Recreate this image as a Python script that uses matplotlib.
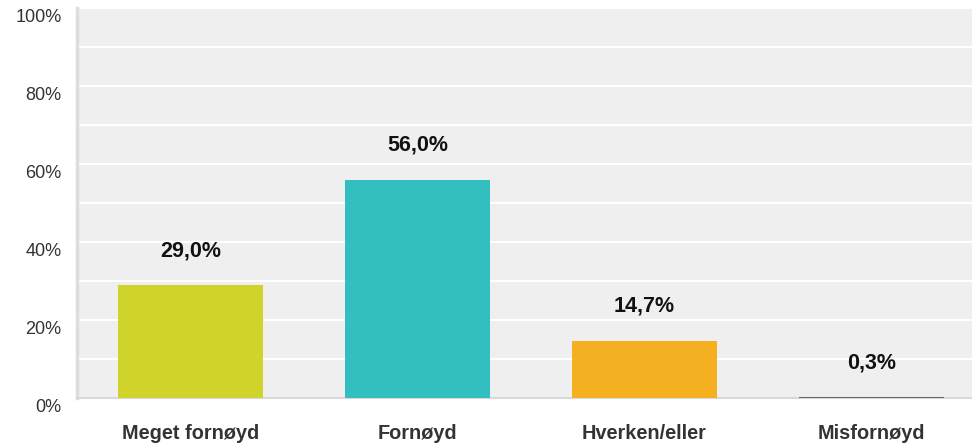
import matplotlib.pyplot as plt
import matplotlib.transforms as mtransforms
import numpy as np

# Data
categories = ['Meget fornøyd', 'Fornøyd', 'Hverken/eller', 'Misfornøyd']
values = [29.0, 56.0, 14.7, 0.3]
bar_colors = ['#d0d42a', '#33bfc0', '#f5b021', '#666666']
yticks = [0, 20, 40, 60, 80, 100]

plt.rcParams['font.family'] = ['Liberation Sans', 'DejaVu Sans']

fig = plt.figure(figsize=(9.72, 4.47), dpi=100)
W, H = 972, 447
# plot area runs past the right edge, as in the reference
ax = fig.add_axes([77 / W, 49 / H, (985 - 77) / W, 390 / H])
ax.set_facecolor('#efefef')

x = np.arange(len(categories))
ax.bar(x, values, width=0.643, color=bar_colors, zorder=3)

for xi, v in zip(x, values):
    ax.text(xi, v + 8.8, f'{v:.1f}%'.replace('.', ','), ha='center', va='center',
            fontsize=15.5, fontweight='bold', color='#111111', zorder=4)

ax.set_xlim(-0.5, 3.5)
ax.set_ylim(0, 100)
ax.set_yticks(yticks)
ax.set_yticklabels([f'{t}%' for t in yticks])
ax.set_yticks(np.arange(0, 101, 10), minor=True)
ax.grid(True, which='both', axis='y', color='white', linewidth=1.5, zorder=1)
ax.set_xticks(x)
ax.set_xticklabels(categories)

ax.tick_params(axis='y', which='both', length=0, pad=11, labelsize=13, labelcolor='#333333')
ax.tick_params(axis='x', length=0, pad=19, labelsize=14.3, labelcolor='#333333')
for lab in ax.get_xticklabels():
    lab.set_fontweight('bold')

# nudge y labels slightly below their gridlines
offset = mtransforms.ScaledTranslation(0, -7 / 100, fig.dpi_scale_trans)
for lab in ax.get_yticklabels():
    lab.set_transform(lab.get_transform() + offset)

for side in ['top', 'right']:
    ax.spines[side].set_visible(False)
ax.spines['left'].set_color('#dddddd')
ax.spines['left'].set_linewidth(2.5)
ax.spines['bottom'].set_color('#d8d8d8')
ax.spines['bottom'].set_linewidth(1.5)

fig.savefig('out.png', dpi=100)
